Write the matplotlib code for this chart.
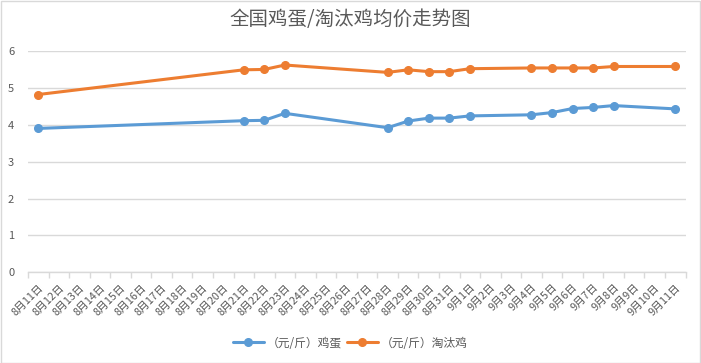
import matplotlib.pyplot as plt
from matplotlib.patches import Rectangle

plt.rcParams['font.family'] = ['Noto Sans CJK SC', 'DejaVu Sans']

# all category labels on the x axis
categories = [f"8月{d}日" for d in range(11, 32)] + [f"9月{d}日" for d in range(1, 12)]

# dates that have data
pointDates = ["8月11日", "8月21日", "8月22日", "8月23日", "8月28日", "8月29日", "8月30日",
              "8月31日", "9月1日", "9月4日", "9月5日", "9月6日", "9月7日", "9月8日", "9月11日"]
egg = [3.90, 4.11, 4.12, 4.31, 3.92, 4.10, 4.18, 4.18, 4.24, 4.27, 4.33, 4.44, 4.47, 4.52, 4.43]
chicken = [4.82, 5.49, 5.50, 5.62, 5.42, 5.49, 5.44, 5.44, 5.52, 5.54, 5.54, 5.54, 5.54, 5.58, 5.58]

seriesNames = ["（元/斤）鸡蛋", "（元/斤）淘汰鸡"]
blue = "#5B9BD5"
orange = "#ED7D31"
textGray = "#595959"
gridGray = "#D9D9D9"


def main():
    fig = plt.figure(figsize=(7.01, 3.63), dpi=100)
    ax = fig.add_axes([0.040, 0.250, 0.938, 0.6095])

    xs = [categories.index(d) for d in pointDates]
    ax.plot(xs, egg, '-o', color=blue, lw=2.2, ms=5.5, label=seriesNames[0],
            solid_capstyle='round')
    ax.plot(xs, chicken, '-o', color=orange, lw=2.2, ms=5.5, label=seriesNames[1],
            solid_capstyle='round')

    ax.set_xlim(-0.5, len(categories) - 0.5)
    ax.set_ylim(0, 6)
    ax.set_yticks(range(0, 7))
    ax.yaxis.grid(True, color=gridGray, lw=1)
    ax.set_axisbelow(True)
    for s in ['top', 'right', 'left']:
        ax.spines[s].set_visible(False)
    ax.spines['bottom'].set_color(gridGray)
    ax.spines['bottom'].set_linewidth(1)

    ax.set_xticks(range(len(categories)))
    ax.set_xticklabels(categories, rotation=45, ha='right', rotation_mode='anchor',
                       fontsize=7.8, color=textGray)
    ax.tick_params(axis='x', which='major', length=0, pad=7)
    ax.set_xticks([i - 0.5 for i in range(len(categories) + 1)], minor=True)
    ax.tick_params(axis='x', which='minor', length=4, color=gridGray, width=1)
    ax.tick_params(axis='y', length=0, labelsize=8, labelcolor=textGray, pad=10)

    fig.text(0.5, 0.945, "全国鸡蛋/淘汰鸡均价走势图", ha='center', va='center',
             fontsize=14, color=textGray, fontweight='light')

    fig.legend(loc='center', bbox_to_anchor=(0.5, 0.055), ncol=2, frameon=False,
               fontsize=8.5, labelcolor=textGray, handlelength=2.6, columnspacing=0.4,
               handletextpad=0.3)

    fig.add_artist(Rectangle((0.001, 0.001), 0.997, 0.996, transform=fig.transFigure,
                             fill=False, edgecolor=gridGray, lw=1))

    fig.savefig("out.png", dpi=100)


if __name__ == '__main__':
    main()
